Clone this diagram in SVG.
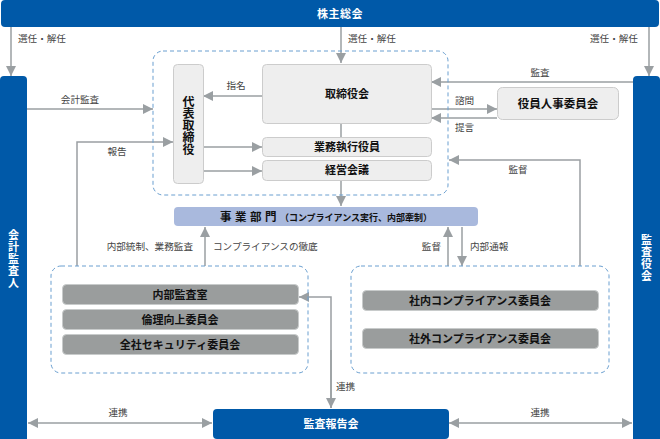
<svg xmlns="http://www.w3.org/2000/svg" width="660" height="439" viewBox="0 0 660 439">
<defs>
<marker id="ah" viewBox="0 0 10 10" refX="10" refY="5" markerWidth="10" markerHeight="10" markerUnits="userSpaceOnUse" orient="auto-start-reverse">
<path d="M0,0 L10,5 L0,10 z" fill="#9a9fa2"/>
</marker>
<style>
text{font-family:"Noto Sans CJK JP","Noto Sans",sans-serif;}
.blue{fill:#0059a8;}
.wt{fill:#fff;font-size:11px;font-weight:bold;text-anchor:middle;}
.vt{writing-mode:vertical-rl;text-orientation:upright;}
.lb{fill:#444;font-size:9.6px;}
.lbm{fill:#444;font-size:9.6px;text-anchor:middle;}
.lbe{fill:#444;font-size:9.6px;text-anchor:end;}
.lt{fill:#eeeeee;stroke:#cccccc;stroke-width:1;}
.dk{fill:#9a9d9d;stroke:#c8cbcb;stroke-width:1;}
.bt{fill:#111;font-size:11px;font-weight:bold;text-anchor:middle;}
.dash{fill:none;stroke:#6a9fd0;stroke-width:1;stroke-dasharray:4,3;}
.cn{fill:none;stroke:#9a9fa2;stroke-width:1.5;}
.ca{fill:none;stroke:#9a9fa2;stroke-width:1.5;marker-end:url(#ah);}
.cb{fill:none;stroke:#9a9fa2;stroke-width:1.5;marker-start:url(#ah);marker-end:url(#ah);}
</style>
</defs>

<g id="connectors">
<line class="ca" x1="11" y1="27" x2="11" y2="76"/>
<line class="ca" x1="341" y1="27" x2="341" y2="63"/>
<line class="ca" x1="649" y1="27" x2="649" y2="76"/>
<line class="ca" x1="27" y1="109" x2="153" y2="109"/>
<line class="ca" x1="262" y1="96" x2="203" y2="96"/>
<line class="ca" x1="633" y1="82" x2="431" y2="82"/>
<line class="ca" x1="431" y1="109" x2="497" y2="109"/>
<line class="ca" x1="497" y1="118" x2="431" y2="118"/>
<line class="cn" x1="341" y1="123" x2="341" y2="137"/>
<line class="ca" x1="203" y1="147" x2="262" y2="147"/>
<line class="ca" x1="203" y1="171" x2="262" y2="171"/>
<polyline class="ca" points="77,266 77,142 173,142"/>
<line class="ca" x1="341" y1="180" x2="341" y2="206"/>
<line class="ca" x1="205" y1="266" x2="205" y2="227"/>
<line class="ca" x1="448" y1="266" x2="448" y2="227"/>
<line class="ca" x1="462" y1="227" x2="462" y2="266"/>
<polyline class="ca" points="580,266 580,160 449,160"/>
<polyline class="ca" points="331,408 331,297 299,297"/>
<line class="ca" x1="331" y1="350" x2="331" y2="408"/>
<line class="cb" x1="28" y1="423" x2="212" y2="423"/>
<line class="cb" x1="449" y1="423" x2="632" y2="423"/>

<text class="lb" x="18" y="42">選任・解任</text>
<text class="lb" x="348" y="42">選任・解任</text>
<text class="lb" x="590" y="42">選任・解任</text>
<text class="lbm" x="80" y="103">会計監査</text>
<text class="lbm" x="236" y="89">指名</text>
<text class="lbm" x="540" y="76">監査</text>
<text class="lb" x="455" y="104">諮問</text>
<text class="lb" x="455" y="131">提言</text>
<text class="lbm" x="117" y="155">報告</text>
<text class="lbm" x="518" y="173">監督</text>
<text class="lbe" x="193" y="250">内部統制、業務監査</text>
<text class="lb" x="213" y="250">コンプライアンスの徹底</text>
<text class="lbe" x="441" y="250">監督</text>
<text class="lb" x="470" y="250">内部通報</text>
<text class="lb" x="336" y="390">連携</text>
<text class="lbm" x="118" y="416">連携</text>
<text class="lbm" x="540" y="416">連携</text>
</g>

<g id="shareholders">
<rect class="blue" x="1" y="0" width="658" height="27" rx="4"/>
<text class="wt" x="340" y="18" style="letter-spacing:0.5px">株主総会</text>
</g>

<g id="accounting-auditor">
<rect class="blue" x="0" y="76" width="27" height="370" rx="4"/>
<text class="wt vt" x="13.5" y="259" style="letter-spacing:1px">会計監査人</text>
</g>

<g id="audit-board">
<rect class="blue" x="633" y="76" width="27" height="370" rx="4"/>
<text class="wt vt" x="646.5" y="258" style="letter-spacing:1px">監査役会</text>
</g>

<g id="board-group">
<rect class="dash" x="153" y="51" width="295" height="144" rx="10"/>
</g>

<g id="representative-director">
<rect class="lt" x="173.5" y="64.5" width="30" height="119" rx="4"/>
<text class="bt vt" x="188.5" y="125" style="font-size:12px">代表取締役</text>
</g>

<g id="board-of-directors">
<rect class="lt" x="262.5" y="64.5" width="169" height="59" rx="4"/>
<text class="bt" x="347" y="98">取締役会</text>
</g>

<g id="nomination-committee">
<rect class="lt" x="497.5" y="87.5" width="121" height="32" rx="5"/>
<text class="bt" x="558" y="108" style="font-size:11.5px">役員人事委員会</text>
</g>

<g id="executive-officers">
<rect class="lt" x="262.5" y="137.5" width="169" height="19" rx="4"/>
<text class="bt" x="347" y="151">業務執行役員</text>
</g>

<g id="management-meeting">
<rect class="lt" x="262.5" y="160.5" width="169" height="20" rx="4"/>
<text class="bt" x="347" y="174">経営会議</text>
</g>

<g id="business-division">
<rect x="174" y="207" width="304" height="19" rx="4" fill="#a9b9dd"/>
<text x="326" y="220.5" style="fill:#111;font-weight:bold;text-anchor:middle"><tspan style="font-size:11.5px;letter-spacing:3.5px">事業部門</tspan><tspan style="font-size:9px">（コンプライアンス実行、内部牽制）</tspan></text>
</g>

<g id="internal-group">
<rect class="dash" x="51" y="266" width="257" height="107" rx="10"/>
</g>

<g id="internal-audit">
<rect class="dk" x="62.5" y="284.5" width="236" height="20" rx="4"/>
<text class="bt" x="180" y="298.5">内部監査室</text>
</g>

<g id="ethics-committee">
<rect class="dk" x="62.5" y="309.5" width="236" height="20" rx="4"/>
<text class="bt" x="180" y="323.5">倫理向上委員会</text>
</g>

<g id="security-committee">
<rect class="dk" x="62.5" y="334.5" width="236" height="20" rx="4"/>
<text class="bt" x="180" y="348.5">全社セキュリティ委員会</text>
</g>

<g id="compliance-group">
<rect class="dash" x="351" y="266" width="258" height="107" rx="10"/>
</g>

<g id="internal-compliance">
<rect class="dk" x="362.5" y="290.5" width="236" height="20" rx="4"/>
<text class="bt" x="480" y="304.5">社内コンプライアンス委員会</text>
</g>

<g id="external-compliance">
<rect class="dk" x="362.5" y="328.5" width="236" height="20" rx="4"/>
<text class="bt" x="480" y="342.5">社外コンプライアンス委員会</text>
</g>

<g id="audit-report-meeting">
<rect class="blue" x="213" y="409" width="236" height="30" rx="4"/>
<text class="wt" x="331" y="428">監査報告会</text>
</g>
</svg>
